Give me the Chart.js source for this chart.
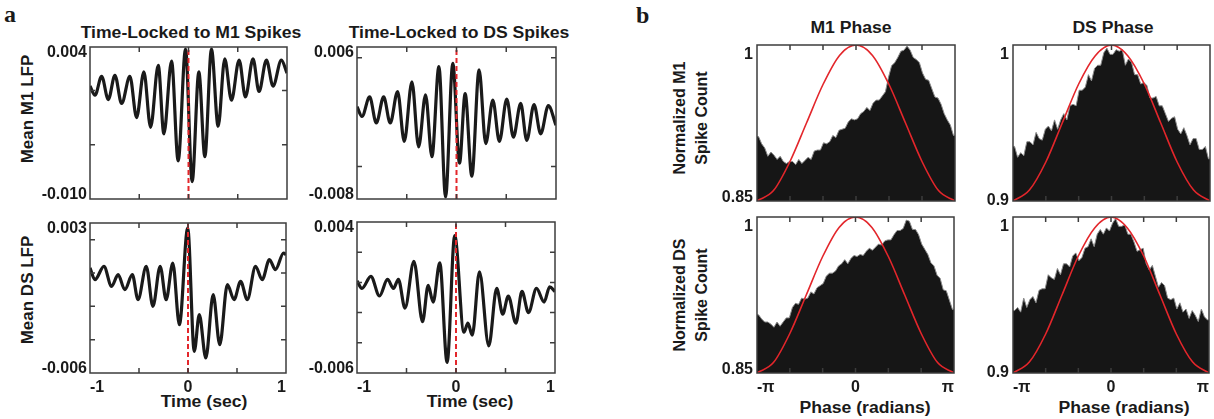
<!DOCTYPE html>
<html>
<head>
<meta charset="utf-8">
<script src="https://cdn.jsdelivr.net/npm/chart.js@4.4.1/dist/chart.umd.min.js"></script>
<style>
  html, body { margin: 0; padding: 0; background: #fff; overflow: hidden; }
  #fig { position: relative; width: 1214px; height: 419px; font-family: "Liberation Sans", Arial, sans-serif; font-weight: bold; color: #1a1a1a; }
  canvas { position: absolute; }
  .lbl { position: absolute; white-space: nowrap; font-size: 16px; line-height: 20px; text-align: center; transform: translate(-50%, -50%) scaleX(1.1); }
  .rot { transform: translate(-50%, -50%) rotate(-90deg); }
  .big { font-size: 17px; }
  .letter { position: absolute; font-family: "Liberation Serif", "Times New Roman", serif; font-size: 24px; line-height: 24px; font-weight: bold; }
</style>
</head>
<body>
<div id="fig">
  <div class="letter" style="left:4px;top:2px">a</div>
  <div class="letter" style="left:636px;top:3px">b</div>

  <div class="lbl" style="left:191px;top:33px">Time-Locked to M1 Spikes</div>
  <div class="lbl" style="left:459px;top:33px">Time-Locked to DS Spikes</div>
  <div class="lbl" style="left:851px;top:28px">M1 Phase</div>
  <div class="lbl" style="left:1113px;top:28px">DS Phase</div>

  <div class="lbl rot big" style="left:28px;top:109px">Mean M1 LFP</div>
  <div class="lbl rot big" style="left:28px;top:290px">Mean DS LFP</div>
  <div class="lbl rot" style="left:691px;top:118px;line-height:22px">Normalized M1<br>Spike Count</div>
  <div class="lbl rot" style="left:691px;top:295px;line-height:22px">Normalized DS<br>Spike Count</div>

  <div class="lbl" style="left:204px;top:402px">Time (sec)</div>
  <div class="lbl" style="left:470px;top:402px">Time (sec)</div>
  <div class="lbl" style="left:865px;top:408px">Phase (radians)</div>
  <div class="lbl" style="left:1124px;top:408px">Phase (radians)</div>
</div>

<script>
// ---- panel a : spike-triggered mean LFP (time in s) ----
const m1LfpByM1Time = [-1.000,-0.949,-0.882,-0.814,-0.747,-0.679,-0.595,-0.527,-0.453,-0.385,-0.307,-0.250,-0.172,-0.105,-0.030,0.037,0.105,0.166,0.233,0.301,0.368,0.436,0.514,0.578,0.655,0.716,0.791,0.858,0.943,1.000];
const m1LfpByM1 = [0.0004,-0.00044,0.0013,-0.00084,0.0014,-0.0012,0.0013,-0.0025,0.0017,-0.0034,0.0023,-0.0040,0.0027,-0.0065,0.0038,-0.0084,0.0017,-0.0061,0.0038,-0.0033,0.0029,-0.0009,0.0028,-0.0006,0.0029,-0.0001,0.0028,0.0004,0.0028,0.0016];

const m1LfpByDsTime = [-1.000,-0.950,-0.873,-0.806,-0.732,-0.666,-0.592,-0.525,-0.448,-0.381,-0.311,-0.247,-0.177,-0.110,-0.037,0.030,0.087,0.154,0.227,0.294,0.365,0.431,0.505,0.572,0.645,0.706,0.779,0.846,0.923,1.000];
const m1LfpByDs = [0.0005,-0.0004,0.0014,-0.0010,0.0014,-0.0010,0.0019,-0.0027,0.0028,-0.0032,0.0016,-0.0041,0.0042,-0.0078,0.0045,-0.0047,0.0017,-0.0059,0.0039,-0.0029,0.0011,-0.0027,0.0012,-0.0023,0.0008,-0.0026,0.0007,-0.0020,0.0006,-0.0012];

const dsLfpByM1Time = [-1.000,-0.949,-0.858,-0.780,-0.713,-0.645,-0.568,-0.510,-0.426,-0.358,-0.284,-0.223,-0.155,-0.088,-0.003,0.064,0.115,0.182,0.257,0.324,0.402,0.470,0.537,0.605,0.689,0.757,0.831,0.892,0.976,1.000];
const dsLfpByM1 = [0.0003,-0.0004,0.0004,-0.0008,-0.0001,-0.0010,-0.0001,-0.0016,0.0004,-0.0020,0.0004,-0.0016,0.0006,-0.0031,0.0027,-0.0047,-0.0025,-0.0051,-0.0013,-0.0043,-0.0007,-0.0016,-0.0005,-0.0016,0.0004,-0.0004,0.0008,0.0002,0.0012,0.0011];

const dsLfpByDsTime = [-1.000,-0.950,-0.860,-0.773,-0.692,-0.632,-0.582,-0.515,-0.425,-0.338,-0.281,-0.231,-0.164,-0.090,-0.013,0.080,0.120,0.164,0.237,0.331,0.411,0.472,0.528,0.605,0.666,0.732,0.813,0.890,0.946,1.000];
const dsLfpByDs = [0.0001,-0.0004,0.0004,-0.0009,0.0002,-0.0004,0.0002,-0.0017,0.0014,-0.0026,-0.0002,-0.0013,0.0013,-0.0053,0.0031,-0.0033,-0.0027,-0.0035,0.0007,-0.0042,-0.0004,-0.0021,-0.0009,-0.0027,-0.0006,-0.0020,-0.0004,-0.0013,-0.0003,-0.0006];

// ---- panel b : normalized spike count per phase bin (64 bins, -pi..pi) ----
const m1CountByM1Phase = [0.912,0.905,0.901,0.893,0.897,0.894,0.890,0.893,0.888,0.886,0.888,0.888,0.885,0.890,0.886,0.889,
  0.892,0.890,0.898,0.899,0.899,0.906,0.905,0.907,0.913,0.911,0.918,0.919,0.920,0.926,0.929,0.928,
  0.929,0.934,0.936,0.940,0.937,0.944,0.947,0.947,0.951,0.955,0.969,0.980,0.983,0.988,0.994,0.995,
  0.999,0.995,0.988,0.986,0.983,0.973,0.967,0.966,0.958,0.950,0.949,0.943,0.934,0.928,0.923,0.913];
const m1CountByDsPhase = [0.935,0.928,0.931,0.929,0.938,0.938,0.936,0.944,0.940,0.939,0.946,0.948,0.945,0.952,0.946,0.952,
  0.956,0.952,0.961,0.962,0.961,0.971,0.971,0.973,0.981,0.977,0.985,0.987,0.987,0.995,0.998,0.994,
  0.994,0.997,0.996,0.997,0.987,0.991,0.989,0.981,0.981,0.975,0.976,0.974,0.966,0.966,0.967,0.961,
  0.961,0.956,0.951,0.953,0.954,0.946,0.943,0.947,0.942,0.936,0.940,0.940,0.933,0.933,0.935,0.927];
const dsCountByM1Phase = [0.906,0.902,0.899,0.899,0.897,0.894,0.899,0.895,0.899,0.903,0.903,0.913,0.917,0.916,0.922,0.921,
  0.922,0.928,0.926,0.932,0.934,0.936,0.943,0.946,0.946,0.948,0.953,0.955,0.959,0.955,0.960,0.963,
  0.962,0.964,0.963,0.967,0.970,0.968,0.971,0.974,0.973,0.977,0.978,0.978,0.983,0.987,0.987,0.989,
  0.997,0.996,0.988,0.988,0.983,0.974,0.969,0.964,0.956,0.953,0.944,0.941,0.930,0.929,0.920,0.911];
const dsCountByDsPhase = [0.940,0.942,0.939,0.948,0.942,0.947,0.949,0.945,0.953,0.954,0.954,0.963,0.961,0.960,0.967,0.963,
  0.970,0.970,0.968,0.975,0.977,0.972,0.974,0.980,0.981,0.986,0.981,0.989,0.992,0.989,0.993,0.991,
  0.996,0.999,0.994,0.994,0.995,0.989,0.989,0.984,0.978,0.979,0.980,0.970,0.966,0.969,0.962,0.955,
  0.958,0.956,0.948,0.947,0.948,0.941,0.945,0.939,0.941,0.935,0.940,0.937,0.933,0.941,0.936,0.934];

// red phase curves, read every pi/6
const fitPhaseSteps = [-6,-5,-4,-3,-2,-1,0,1,2,3,4,5,6];
const fitM1Scale = [0.850,0.860,0.888,0.925,0.962,0.990,1.000,0.990,0.962,0.925,0.888,0.860,0.850];
const fitDsScale = [0.900,0.907,0.925,0.950,0.975,0.993,1.000,0.993,0.975,0.950,0.925,0.907,0.900];

const PI = Math.PI;
const ML = 60, MR = 4, MT = 10, MB = 32;
const INK = '#1a1a1a', RED = '#e3262b';
Chart.defaults.font.family = '"Liberation Sans", Arial, sans-serif';

// box, inward ticks and end labels of the y axis, matlab style
const frame = {
  id: 'frame',
  afterDraw(chart) {
    const { ctx, chartArea: a, scales: { x, y } } = chart;
    const o = chart.options.plugins.frame;
    ctx.save();
    ctx.strokeStyle = '#3c3c3c';
    ctx.lineWidth = 1.5;
    ctx.strokeRect(a.left, a.top, a.right - a.left, a.bottom - a.top);
    ctx.beginPath();
    x.ticks.forEach(t => {
      const px = x.getPixelForValue(t.value);
      if (px <= a.left + 1 || px >= a.right - 1) return;
      ctx.moveTo(px, a.top); ctx.lineTo(px, a.top + 5);
      ctx.moveTo(px, a.bottom); ctx.lineTo(px, a.bottom - 5);
    });
    y.ticks.forEach(t => {
      const py = y.getPixelForValue(t.value);
      if (py <= a.top + 1 || py >= a.bottom - 1) return;
      ctx.moveTo(a.left, py); ctx.lineTo(a.left + 5, py);
      ctx.moveTo(a.right, py); ctx.lineTo(a.right - 5, py);
    });
    ctx.stroke();
    ctx.fillStyle = INK;
    ctx.font = 'bold 16px "Liberation Sans", Arial, sans-serif';
    ctx.textAlign = 'right';
    ctx.textBaseline = 'top';
    ctx.fillText(o.top, a.left - o.gap, a.top + o.topOff);
    ctx.textBaseline = 'alphabetic';
    ctx.fillText(o.bottom, a.left - o.gap, a.bottom + o.botOff);
    ctx.restore();
  }
};

const fig = document.getElementById('fig');

function panel(p) {
  const [l, t, r, b] = p.box;
  const cv = document.createElement('canvas');
  cv.width = r - l + ML + MR;
  cv.height = b - t + MT + MB;
  cv.style.left = (l - ML) + 'px';
  cv.style.top = (t - MT) + 'px';
  fig.appendChild(cv);
  new Chart(cv, {
    type: 'line',
    data: { datasets: p.datasets },
    options: {
      responsive: false,
      animation: false,
      events: [],
      layout: { padding: { left: 0, top: MT, right: MR, bottom: 0 } },
      plugins: {
        legend: { display: false },
        tooltip: { enabled: false },
        frame: p.frame
      },
      scales: {
        x: {
          type: 'linear', min: p.xMin, max: p.xMax,
          grid: { display: false, drawTicks: false },
          border: { display: false },
          afterBuildTicks: s => { s.ticks = p.xTicks.map(v => ({ value: v })); },
          afterFit: s => { s.height = MB; },
          ticks: {
            display: p.showX, autoSkip: false, maxRotation: 0, align: 'inner', padding: 5,
            color: INK, font: { size: 16, weight: 'bold' },
            callback: (v, i) => p.xLabels[i]
          }
        },
        y: {
          type: 'linear', min: p.yMin, max: p.yMax,
          grid: { display: false, drawTicks: false },
          border: { display: false },
          afterBuildTicks: s => { s.ticks = p.yTicks.map(v => ({ value: v })); },
          afterFit: s => { s.width = ML; },
          ticks: { display: false }
        }
      }
    },
    plugins: [frame]
  });
}

function lfpPanel(box, time, lfp, yMin, yMax, yTicks, showX) {
  panel({
    box, showX, yMin, yMax, yTicks,
    xMin: -1, xMax: 1,
    xTicks: [-1, -0.5, 0, 0.5, 1],
    xLabels: ['-1', '', '0', '', '1'],
    frame: { top: yMax.toFixed(3), bottom: yMin.toFixed(3), gap: 3, topOff: -2, botOff: 0 },
    datasets: [
      { data: [{ x: 0, y: yMin }, { x: 0, y: yMax }], borderColor: RED, borderWidth: 2, borderDash: [5, 3], pointRadius: 0 },
      { data: time.map((x, i) => ({ x, y: lfp[i] })), borderColor: INK, borderWidth: 3.2, pointRadius: 0, cubicInterpolationMode: 'monotone' }
    ]
  });
}

function phasePanel(box, counts, fit, yMin, yLabel, showX, botOff) {
  const w = 2 * PI / counts.length;
  // one point per bin centre, plus the two edges of the phase range
  const pts = counts.map((c, i) => ({ x: -PI + (i + 0.5) * w, y: c }));
  pts.unshift({ x: -PI, y: counts[0] });
  pts.push({ x: PI, y: counts[counts.length - 1] });
  panel({
    box, showX, yMin, yMax: 1, yTicks: [yMin, 1],
    xMin: -PI, xMax: PI,
    xTicks: [-3, -2, -1, 0, 1, 2, 3].map(k => k * PI / 3),
    xLabels: ['-\u03c0', '', '', '0', '', '', '\u03c0'],
    frame: { top: '1', bottom: yLabel, gap: 4, topOff: 2, botOff: botOff },
    datasets: [
      { data: fitPhaseSteps.map((k, i) => ({ x: k * PI / 6, y: fit[i] })), borderColor: RED, borderWidth: 1.6, pointRadius: 0, cubicInterpolationMode: 'monotone' },
      { data: pts, fill: 'start', backgroundColor: '#161616', borderColor: '#8a8a8a', borderWidth: 1, pointRadius: 0 }
    ]
  });
}

lfpPanel([90, 47, 287, 199], m1LfpByM1Time, m1LfpByM1, -0.010, 0.004, [-0.005, 0], false);
lfpPanel([357, 47, 556, 199], m1LfpByDsTime, m1LfpByDs, -0.008, 0.006, [-0.005, 0.005], false);
lfpPanel([90, 223, 287, 373], dsLfpByM1Time, dsLfpByM1, -0.006, 0.003, [-0.004, -0.002, 0, 0.002], true);
lfpPanel([357, 222, 556, 373], dsLfpByDsTime, dsLfpByDs, -0.006, 0.004, [-0.004, -0.002, 0, 0.002], true);

phasePanel([757, 45, 955, 201], m1CountByM1Phase, fitM1Scale, 0.85, '0.85', false, 1);
phasePanel([1013, 45, 1210, 201], m1CountByDsPhase, fitDsScale, 0.9, '0.9', false, 4);
phasePanel([757, 217, 955, 373], dsCountByM1Phase, fitM1Scale, 0.85, '0.85', true, 1);
phasePanel([1013, 217, 1210, 373], dsCountByDsPhase, fitDsScale, 0.9, '0.9', true, 4);
</script>
</body>
</html>
